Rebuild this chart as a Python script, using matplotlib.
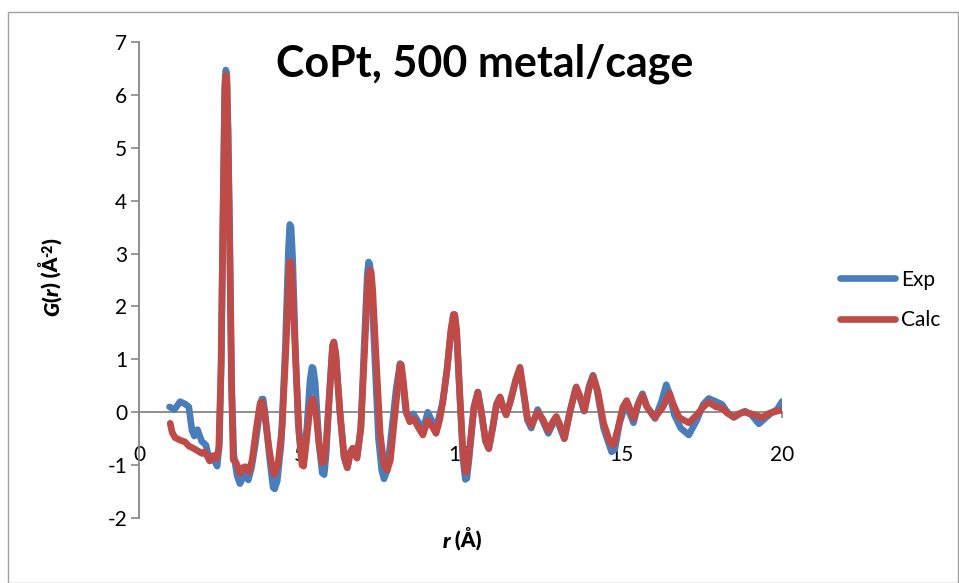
import matplotlib
matplotlib.use('Agg')
import matplotlib.pyplot as plt
from matplotlib.patches import Rectangle
from matplotlib.transforms import IdentityTransform

# Exp (measured) G(r)
exp_r = [0.95, 1.1, 1.28, 1.45, 1.55, 1.65, 1.72, 1.82, 1.95, 2.08, 2.2, 2.3, 2.43, 2.5,
         2.56, 2.62, 2.67, 2.7, 2.73, 2.77, 2.82, 2.88, 2.95, 3.05, 3.14, 3.22, 3.3, 3.4, 3.5,
         3.62, 3.75, 3.82, 3.86, 3.92, 4.05, 4.17, 4.22, 4.3, 4.42, 4.55, 4.65, 4.69, 4.73, 4.78,
         4.86, 4.95, 5.05, 5.12, 5.22, 5.32, 5.38, 5.42, 5.48, 5.6, 5.7, 5.76, 5.82, 5.92, 6.02,
         6.06, 6.12, 6.25, 6.38, 6.48, 6.58, 6.65, 6.78, 6.9, 7.0, 7.1, 7.14, 7.18, 7.23, 7.32,
         7.45, 7.55, 7.62, 7.72, 7.85, 8.0, 8.12, 8.2, 8.3, 8.4, 8.53, 8.7, 8.83, 8.98, 9.1,
         9.24, 9.35, 9.45, 9.58, 9.7, 9.78, 9.82, 9.88, 9.98, 10.08, 10.15, 10.2, 10.28, 10.42,
         10.54, 10.65, 10.78, 10.88, 11.0, 11.12, 11.23, 11.32, 11.42, 11.55, 11.72, 11.85,
         11.95, 12.08, 12.2, 12.4, 12.55, 12.73, 12.85, 12.98, 13.1, 13.23, 13.4, 13.58, 13.7,
         13.84, 14.0, 14.12, 14.25, 14.45, 14.7, 14.8, 14.95, 15.15, 15.25, 15.38, 15.55,
         15.66, 15.8, 16.05, 16.25, 16.4, 16.5, 16.65, 16.85, 17.1, 17.35, 17.55, 17.72, 17.95,
         18.13, 18.3, 18.5, 18.7, 18.85, 19.05, 19.28, 19.5, 19.7, 19.85, 20.0]
exp_g = [0.1, 0.05, 0.2, 0.15, 0.1, -0.35, -0.45, -0.33, -0.55, -0.62, -0.92, -0.85, -1.02, -0.6,
         1.0, 4.0, 6.2, 6.47, 6.4, 5.3, 3.3, 0.5, -0.8, -1.2, -1.35, -1.25, -1.18, -1.28, -1.05,
         -0.6, 0.0, 0.25, 0.25, 0.0, -0.8, -1.42, -1.45, -1.3, -0.6, 1.2, 3.1, 3.55, 3.5, 2.9,
         1.3, -0.2, -0.85, -0.9, -0.3, 0.6, 0.85, 0.83, 0.55, -0.6, -1.15, -1.18, -0.8, 0.3, 1.25,
         1.32, 1.1, 0.0, -0.85, -1.05, -0.75, -0.68, -0.85, -0.3, 1.2, 2.6, 2.84, 2.8, 2.4, 1.2,
         -0.5, -1.1, -1.26, -1.1, -0.4, 0.45, 0.92, 0.6, 0.0, -0.12, -0.03, -0.2, -0.35, 0.0, -0.15,
         -0.3, -0.05, 0.2, 0.8, 1.5, 1.83, 1.83, 1.5, 0.3, -0.9, -1.27, -1.25, -0.8, 0.1,
         0.38, 0.0, -0.55, -0.68, -0.3, 0.15, 0.28, 0.1, -0.05, 0.2, 0.6, 0.82,
         0.4, -0.15, -0.3, 0.05, -0.15, -0.4, -0.25, -0.1, -0.3, -0.5, 0.0, 0.45, 0.3,
         0.02, 0.5, 0.7, 0.4, -0.3, -0.75, -0.7, -0.2, 0.18, 0.0, -0.2, 0.2,
         0.35, 0.1, -0.12, 0.2, 0.52, 0.35, -0.05, -0.3, -0.43, -0.15, 0.15, 0.26, 0.2,
         0.15, 0.0, -0.1, -0.02, 0.02, -0.05, -0.22, -0.1, 0.0, 0.05, 0.2]

# Calc (model) G(r)
calc_r = [0.97, 1.03, 1.12, 1.28, 1.43, 1.55, 1.65, 1.8, 1.96, 2.05, 2.2, 2.3, 2.4, 2.48,
          2.55, 2.62, 2.67, 2.7, 2.73, 2.77, 2.82, 2.88, 2.93, 3.02, 3.14, 3.22, 3.3, 3.42, 3.52,
          3.65, 3.77, 3.83, 3.9, 4.05, 4.17, 4.22, 4.32, 4.45, 4.57, 4.66, 4.69, 4.73, 4.78,
          4.87, 4.98, 5.07, 5.12, 5.2, 5.32, 5.38, 5.42, 5.5, 5.6, 5.69, 5.75, 5.82, 5.92, 6.02,
          6.06, 6.12, 6.25, 6.38, 6.48, 6.58, 6.65, 6.78, 6.9, 7.02, 7.12, 7.18, 7.22, 7.27, 7.36,
          7.5, 7.62, 7.72, 7.82, 7.95, 8.05, 8.12, 8.16, 8.22, 8.32, 8.42, 8.55, 8.7, 8.83,
          8.98, 9.1, 9.24, 9.35, 9.45, 9.58, 9.7, 9.78, 9.82, 9.88, 9.98, 10.08, 10.15, 10.2,
          10.28, 10.42, 10.54, 10.65, 10.78, 10.88, 11.0, 11.12, 11.23, 11.32, 11.42, 11.55,
          11.72, 11.85, 11.95, 12.08, 12.2, 12.4, 12.55, 12.73, 12.85, 12.98, 13.1, 13.23, 13.4,
          13.6, 13.72, 13.86, 14.0, 14.13, 14.27, 14.45, 14.65, 14.76, 14.9, 15.05, 15.17, 15.28,
          15.38, 15.52, 15.66, 15.8, 16.05, 16.3, 16.5, 16.62, 16.8, 17.1, 17.35, 17.55, 17.72,
          17.95, 18.13, 18.3, 18.5, 18.7, 18.85, 19.05, 19.38, 19.6, 19.85, 20.0]
calc_g = [-0.21, -0.38, -0.48, -0.53, -0.56, -0.64, -0.67, -0.72, -0.78, -0.75, -0.92, -0.82, -0.88, -0.7,
          0.8, 4.0, 6.1, 6.38, 6.3, 5.2, 3.3, 0.5, -0.9, -0.95, -1.16, -1.05, -1.03, -1.13, -0.9,
          -0.3, 0.18, 0.2, 0.0, -0.7, -1.15, -1.17, -1.0, -0.3, 1.2, 2.5, 2.85, 2.82, 2.3,
          1.0, -0.4, -1.0, -1.02, -0.6, 0.1, 0.25, 0.24, 0.0, -0.6, -0.95, -0.95, -0.6, 0.3, 1.25,
          1.33, 1.1, 0.0, -0.85, -1.05, -0.75, -0.68, -0.87, -0.3, 1.2, 2.5, 2.69, 2.66, 2.3, 1.2,
          -0.4, -1.0, -1.1, -0.9, -0.1, 0.5, 0.9, 0.9, 0.6, 0.0, -0.18, -0.13, -0.3, -0.43,
          -0.15, -0.25, -0.4, -0.15, 0.2, 0.8, 1.55, 1.85, 1.85, 1.55, 0.3, -0.8, -1.13, -1.12,
          -0.7, 0.1, 0.38, 0.0, -0.55, -0.69, -0.3, 0.15, 0.29, 0.1, -0.05, 0.2,
          0.62, 0.85, 0.45, -0.1, -0.25, 0.0, -0.12, -0.35, -0.2, -0.08, -0.25, -0.5, 0.0,
          0.48, 0.3, 0.03, 0.45, 0.68, 0.4, -0.2, -0.58, -0.62, -0.3, 0.1, 0.22, 0.05,
          -0.12, 0.15, 0.32, 0.1, -0.1, 0.1, 0.36, 0.15, -0.1, -0.2, -0.05, 0.1, 0.19,
          0.1, 0.08, -0.02, -0.09, -0.02, 0.0, -0.03, -0.1, -0.02, 0.02, 0.04]

series_labels = ['Exp', 'Calc']
x_ticks = [0, 5, 10, 15, 20]
y_ticks = [-2, -1, 0, 1, 2, 3, 4, 5, 6, 7]
title = 'CoPt, 500 metal/cage'
# (text, italic, size, raise) pieces of the axis labels, all bold
xlabel_parts = [('r', True, 15, 0), (' (Å)', False, 15, 0)]
ylabel_parts = [('G', True, 15, 0), ('(', False, 15, 0), ('r', True, 15, 0),
                (') (Å', False, 15, 0), ('-2', False, 10, 7), (')', False, 15, 0)]

plt.rcParams['font.family'] = ['Lato', 'DejaVu Sans']
plt.rcParams['axes.unicode_minus'] = False

W, H = 959, 583
fig = plt.figure(figsize=(W / 100, H / 100), dpi=100)
ax = fig.add_axes([139 / W, 1 - 518 / H, 643 / W, 476 / H])

blue = '#4A7EBB'
red = '#BE4B48'
grey = '#868686'

ax.plot(exp_r, exp_g, color=blue, lw=4.8, solid_capstyle='round', solid_joinstyle='round',
        label=series_labels[0])
ax.plot(calc_r, calc_g, color=red, lw=4.8, solid_capstyle='round', solid_joinstyle='round',
        label=series_labels[1])

ax.set_xlim(0, 20)
ax.set_ylim(-2, 7)
ax.set_xticks(x_ticks)
ax.set_yticks(y_ticks)

for s in ['top', 'right']:
    ax.spines[s].set_visible(False)
ax.spines['bottom'].set_position(('data', 0))
ax.spines['bottom'].set_color(grey)
ax.spines['left'].set_color(grey)
ax.spines['bottom'].set_linewidth(1.3)
ax.spines['left'].set_linewidth(1.3)
ax.spines['bottom'].set_zorder(1)

ax.tick_params(axis='x', direction='out', length=4.5, width=1.2, color=grey,
               labelsize=15, pad=19)
ax.tick_params(axis='y', direction='out', length=5.5, width=1.2, color=grey,
               labelsize=15, pad=3)


def rich_label(parts, cx, cy, vertical):
    # lay out bold pieces along a baseline, centred on (cx, cy) in pixels
    r = fig.canvas.get_renderer()
    texts, lens = [], []
    for s, it, size, up in parts:
        t = fig.text(0, 0, s, transform=IdentityTransform(), fontsize=size,
                     fontweight='heavy', style='italic' if it else 'normal',
                     rotation=90 if vertical else 0, rotation_mode='anchor',
                     ha='left', va='baseline')
        bb = t.get_window_extent(r)
        texts.append(t)
        lens.append(bb.height if vertical else bb.width)
    pos = -sum(lens) / 2
    for t, n, (s, it, size, up) in zip(texts, lens, parts):
        if vertical:
            t.set_position((cx - up, cy + pos))
        else:
            t.set_position((cx + pos, cy + up))
        pos += n


rich_label(xlabel_parts, 462, H - 548, False)
rich_label(ylabel_parts, 59, H - 277, True)

fig.text(485 / W, 1 - 64 / H, title, fontsize=31, fontweight='bold',
         ha='center', va='center')

leg = ax.legend(loc='center left', bbox_to_anchor=(830 / W, 1 - 300 / H),
                bbox_transform=fig.transFigure, frameon=False, fontsize=15,
                handlelength=2.6, handletextpad=0.3, labelspacing=1.0, borderpad=0)
for line in leg.get_lines():
    line.set_linewidth(4.8)

# outer chart border
fig.patches.append(Rectangle((8 / W, 0), 950 / W, 1 - 12 / H, transform=fig.transFigure,
                             fill=False, edgecolor='#A0A0A0', lw=1))

plt.savefig('out.png', dpi=100)
